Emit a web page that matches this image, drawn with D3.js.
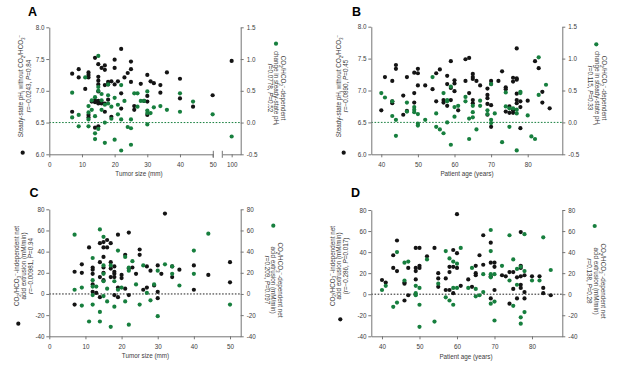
<!DOCTYPE html>
<html><head><meta charset="utf-8">
<script src="https://cdn.jsdelivr.net/npm/d3@7"></script>
<style>body{margin:0;background:#fff}svg{display:block}text{font-family:"Liberation Sans",Arial,sans-serif}</style>
</head><body><svg id="c" width="617" height="369"></svg>
<script>
// ---------- DATA ----------
// Panel A: tumor size (mm) vs steady-state pHi (black, left axis) and CO2/HCO3- dependent change (green, right axis)
const aBlack = [[7,7.27],[7,6.67],[9,7.34],[9,7.21],[11,7.03],[12,7.29],[12,7.25],[12,7.21],[12,6.62],[12,6.58],[13,6.83],[14,7.52],[14,6.82],[14,6.42],[14,6.85],[15,7.42],[15,7.22],[15,7.16],[15,7.1],[15,6.84],[15,6.8],[15,6.44],[15,6.99],[16,7.36],[16,6.82],[16,6.8],[17,7.4],[17,7.33],[17,7.09],[17,6.67],[17,6.8],[18,7.1],[18,7.14],[18,6.86],[19,7.15],[19,6.59],[20,7.49],[20,7.36],[20,7.1],[21,7.15],[22,7.66],[22,6.96],[22,6.72],[23,7.21],[24,7.28],[25,7.46],[25,7.34],[25,7.14],[26,6.76],[26,6.7],[28,7.11],[29,6.84],[30,7.25],[30,6.92],[30,6.83],[30,6.62],[31,7.15],[32,7.12],[34,7.09],[34,6.97],[36,7.29],[40,7.19],[40,6.88],[44,6.75],[50,6.93],[100,7.47]];
const aGreen = [[7,0.47],[7,0.08],[9,0.12],[9,-0.06],[11,0.71],[12,0.26],[12,0.16],[12,0.05],[12,-0.06],[13,0.35],[13,0.2],[14,0.1],[14,-0.17],[14,-0.26],[14,0.4],[15,-0.1],[15,1.05],[15,0.56],[15,0.5],[16,0.35],[16,0.45],[16,0.2],[17,-0.32],[17,0.28],[17,0.0],[18,0.43],[18,0.6],[18,0.3],[19,0.25],[19,0.06],[20,0.39],[20,-0.27],[21,0.28],[21,0.13],[22,0.59],[22,0.05],[22,-0.44],[23,0.34],[24,-0.07],[25,-0.09],[25,-0.35],[25,0.05],[26,0.46],[27,0.46],[27,0.25],[28,0.34],[29,0.34],[30,0.49],[30,0.19],[30,0.15],[30,-0.03],[31,0.15],[32,0.24],[34,0.26],[36,0.2],[40,0.46],[40,0.17],[44,0.33],[50,0.13],[100,-0.22]];
// Panel B: patient age (years)
const bBlack = [[40,6.69],[41,7.21],[43,7.15],[43,6.8],[43,6.83],[44,7.4],[44,7.34],[46,6.92],[46,6.62],[47,7.21],[47,6.68],[49,7.28],[49,6.96],[49,6.81],[50,7.34],[50,7.27],[50,7.08],[52,7.08],[54,7.02],[55,7.27],[55,6.83],[56,7.33],[57,6.85],[57,6.81],[58,7.23],[58,7.1],[58,6.76],[59,7.46],[59,7.04],[59,6.85],[60,7.16],[60,7.11],[60,6.99],[61,6.69],[63,7.15],[63,7.49],[64,7.51],[64,6.96],[65,7.26],[65,7.21],[65,7.18],[65,6.85],[65,6.8],[66,7.15],[67,7.08],[69,7.03],[69,6.93],[69,6.88],[69,6.79],[69,6.62],[70,7.15],[70,7.1],[70,6.77],[70,6.43],[72,7.15],[73,7.3],[74,7.05],[74,7.02],[74,6.67],[75,6.75],[75,6.65],[76,7.2],[76,7.14],[76,6.69],[76,6.65],[77,7.66],[77,7.17],[77,7.19],[77,6.95],[77,6.85],[77,6.8],[78,6.83],[78,6.74],[78,6.41],[80,6.84],[82,7.46],[83,7.35],[84,6.98],[84,6.81],[86,6.72]];
const bGreen = [[40,0.46],[41,0.39],[43,0.33],[43,0.1],[44,0.04],[44,-0.21],[47,0.31],[47,0.17],[49,0.24],[49,0.2],[49,0.16],[50,0.13],[50,-0.02],[50,-0.05],[52,0.04],[54,0.71],[55,0.14],[55,-0.07],[56,-0.11],[57,-0.17],[57,0.46],[58,0.35],[58,0.33],[58,0.0],[59,0.56],[59,-0.35],[60,0.24],[60,0.09],[61,0.26],[63,0.33],[63,0.4],[64,0.06],[64,-0.26],[65,0.26],[65,0.16],[65,0.08],[66,-0.11],[67,0.34],[67,0.26],[69,0.13],[69,0.19],[70,0.6],[70,0.04],[70,-0.01],[71,0.14],[73,-0.31],[74,0.47],[74,0.25],[75,-0.07],[75,0.22],[76,0.22],[77,0.2],[77,0.14],[77,-0.44],[78,0.48],[78,0.46],[80,0.11],[81,-0.22],[82,-0.26],[83,1.02],[83,0.43],[85,0.59]];
// Panel C: tumor size (mm) vs acid extrusion (mM/min)
const cBlack = [[7,21],[7,-10],[9,28],[9,20],[11,44],[12,25],[12,23],[12,19],[12,9],[12,2],[13,1],[14,30],[14,48],[14,16],[14,-3],[15,49],[15,44],[15,35],[15,25],[15,20],[15,13],[16,51],[16,44],[17,48],[17,30],[17,24],[17,16],[18,26],[18,21],[18,19],[18,16],[18,-1],[19,56],[19,6],[19,-3],[20,18],[20,15],[21,37],[21,5],[22,58],[22,24],[22,-1],[23,25],[24,19],[25,42],[25,37],[26,4],[27,26],[27,6],[28,22],[29,8],[30,27],[30,2],[30,-4],[31,19],[32,76],[34,26],[34,16],[36,23],[40,27],[40,4],[44,18],[50,30],[50,11]];
const cGreen = [[7,56],[7,4],[9,6],[9,-11],[11,-26],[12,34],[12,13],[12,7],[12,-1],[12,-10],[13,7],[14,61],[14,-17],[14,-26],[15,54],[15,27],[15,19],[15,12],[15,-2],[16,-7],[16,5],[17,27],[17,-31],[18,12],[18,-12],[19,41],[19,4],[20,6],[21,35],[21,-7],[22,-29],[22,25],[22,22],[23,31],[24,9],[25,-10],[26,27],[27,1],[28,-6],[29,9],[30,22],[30,-21],[32,28],[34,26],[34,19],[36,8],[40,41],[40,19],[44,57],[50,-10]];
// Panel D: patient age (years) vs acid extrusion (mM/min)
const dBlack = [[40,13.5],[41,11],[43,37],[43,25],[44,51],[44,22],[46,11],[46,10],[46,-6],[47,25],[47,-1],[49,44],[50,44],[49,25],[49,22],[49,14],[50,27],[50,25],[52,36],[54,44],[55,20],[55,15],[55,7],[57,15],[57,4],[58,26],[58,21],[58,4],[59,26],[59,1],[59,42],[60,39],[60,25],[60,76],[61,8],[63,14],[64,7],[65,27],[65,20],[65,18],[66,37],[67,56],[67,28],[69,49],[69,30],[69,17],[69,-4],[70,30],[70,26],[70,4],[72,18],[73,17],[74,21],[75,21],[75,5],[74,-9],[76,16],[77,17],[76,-4],[77,59],[77,27],[77,25],[77,9],[77,6],[78,18],[78,2],[78,-4],[80,17],[82,17],[83,6],[83,1],[85,-1]];
const dGreen = [[40,4],[41,8],[43,-12],[44,40],[44,-8],[46,30],[46,13],[47,31],[49,8],[49,1],[49,-1],[50,6],[50,-10],[50,-31],[52,33],[54,-26],[55,10],[57,41],[57,-3],[58,34],[58,-6],[59,-10],[59,6],[59,31],[60,29],[60,6],[61,44],[63,6],[64,25],[65,-2],[66,-1],[65,5],[67,19],[67,2],[69,61],[69,41],[69,19],[69,16],[69,-9],[70,-7],[70,-25],[70,19],[72,27],[74,56],[74,13],[75,-11],[75,33],[76,24],[76,9],[77,-22],[77,-28],[77,26],[78,57],[78,22],[78,-17],[80,13],[82,13],[83,54],[85,23]];

// tick values
const phTicks = [6.0, 6.5, 7.0, 7.5, 8.0];
const deltaTicks = [-0.5, 0.0, 0.5, 1.0, 1.5];
const extrTicks = [-40, -20, 0, 20, 40, 60, 80];
const sizeTicksA = [0, 10, 20, 30, 40, 50];
const sizeTicksABreak = [100];
const sizeTicksC = [0, 10, 20, 30, 40, 50];
const ageTicks = [40, 50, 60, 70, 80];

// axis titles
const labA_L = ["Steady-state pH_{i} without CO_{2}/HCO_{3}^{−}", "*r*=−0.0243, *P*=0.84"];
const labA_R = ["CO_{2}/HCO_{3}^{−}-dependent", "change in steady-state pH_{i}", "*r*=0.0778, *P*=0.52"];
const labB_L = ["Steady-state pH_{i} without CO_{2}/HCO_{3}^{−}", "*r*=−0.0890, *P*=0.45"];
const labB_R = ["CO_{2}/HCO_{3}^{−}-dependent", "change in steady-state pH_{i}", "*r*=0.115, *P*=0.33"];
const labC_L = ["CO_{2}/HCO_{3}^{−}-independent net", "acid extrusion (mM/min)", "*r*=−0.00981, *P*=0.94"];
const labC_R = ["CO_{2}/HCO_{3}^{−}-dependent net", "acid extrusion (mM/min)", "*r*=0.209, *P*=0.097"];
const labD_L = ["CO_{2}/HCO_{3}^{−}-independent net", "acid extrusion (mM/min)", "(*r*=−0.286, *P*=0.017)"];
const labD_R = ["CO_{2}/HCO_{3}^{−}-dependent net", "acid extrusion (mM/min)", "*r*=0.138, *P*=0.28"];

// ---------- DRAW ----------
const svg = d3.select("#c");
const AXC = "#757575", TXT = "#3c3c3c", BLK = "#141414", GRN = "#177f3e";
const FS = 6.3, R = 2.1;

function rich(textSel, str) {
  const parts = str.split(/(_\{[^}]*\}|\^\{[^}]*\}|\*[^*]+\*)/g).filter(s => s.length);
  let cur = 0;
  parts.forEach(p => {
    let t = p, shift = 0, small = false, it = false;
    if (p.startsWith("_{")) { t = p.slice(2, -1); shift = 0.28 * FS; small = true; }
    else if (p.startsWith("^{")) { t = p.slice(2, -1); shift = -0.38 * FS; small = true; }
    else if (p.startsWith("*")) { t = p.slice(1, -1); it = true; }
    const ts = textSel.append("tspan").text(t);
    if (shift - cur !== 0) ts.attr("dy", shift - cur);
    cur = shift;
    if (small) ts.attr("font-size", FS * 0.72);
    if (it) ts.attr("font-style", "italic");
  });
}

function styleAxis(g) {
  g.select(".domain").attr("stroke", AXC).attr("stroke-width", 1);
  g.selectAll(".tick line").attr("stroke", AXC).attr("stroke-width", 1);
  g.selectAll(".tick text").attr("fill", TXT).attr("font-size", FS).attr("font-family", '"Liberation Sans",Arial,sans-serif');
}

function sideLabel(lines, xs, cy, rot) {
  lines.forEach((ln, i) => {
    const t = svg.append("text")
      .attr("transform", `translate(${xs[i]},${cy}) rotate(${rot})`)
      .attr("text-anchor", "middle").attr("y", 0.35 * FS)
      .attr("font-size", FS).attr("fill", TXT);
    rich(t, ln);
  });
}

function dot(x, y, c) {
  svg.append("circle").attr("cx", x).attr("cy", y).attr("r", R).attr("fill", c);
}

function panel(cfg) {
  const {L, Rt, T, B, xScale, yL, yR, black, green, refColor, letter, lx, ly} = cfg;
  svg.append("line").attr("x1", L).attr("x2", Rt).attr("y1", yR(0)).attr("y2", yR(0))
    .attr("stroke", refColor).attr("stroke-width", 1).attr("stroke-dasharray", "1.6,1.6");
  svg.append("g").attr("transform", `translate(${L},0)`)
    .call(d3.axisLeft(yL).tickValues(cfg.yLTicks).tickSize(3).tickSizeOuter(0).tickPadding(1.8).tickFormat(cfg.fmtL))
    .call(styleAxis);
  svg.append("g").attr("transform", `translate(${Rt},0)`)
    .call(d3.axisRight(yR).tickValues(cfg.yRTicks).tickSize(3).tickSizeOuter(0).tickPadding(3).tickFormat(cfg.fmtR))
    .call(styleAxis);
  cfg.xAxes.forEach(a => {
    svg.append("g").attr("transform", `translate(0,${B})`)
      .call(d3.axisBottom(a.scale).tickValues(a.ticks).tickSize(3).tickSizeOuter(0).tickPadding(5.5).tickFormat(d3.format("d")))
      .call(styleAxis);
  });
  black.forEach(d => dot(xScale(d[0]), yL(d[1]), BLK));
  green.forEach(d => dot(xScale(d[0]), yR(d[1]), GRN));
  svg.append("text").attr("x", lx).attr("y", ly).text(letter)
    .attr("font-size", 12.5).attr("font-weight", "bold").attr("fill", "#000");
  svg.append("text").attr("x", cfg.xtX).attr("y", cfg.xtY).attr("text-anchor", "middle")
    .attr("font-size", FS).attr("fill", TXT).text(cfg.xTitle);
  sideLabel(cfg.labL, cfg.labLx, cfg.labLcy, -90);
  sideLabel(cfg.labR, cfg.labRx, cfg.labRcy, 90);
  dot(cfg.legBlack[0], cfg.legBlack[1], BLK);
  dot(cfg.legGreen[0], cfg.legGreen[1], GRN);
}

const f1 = d3.format(".1f");
const fR = v => (v < 0 ? "-" : "") + d3.format(".1f")(Math.abs(v));
const fI = v => (v < 0 ? "-" : "") + Math.abs(v);

// Panel A (broken x axis)
const xA1 = d3.scaleLinear().domain([0, 50.2]).range([49.3, 213.3]);
const xA2 = d3.scaleLinear().domain([97.1, 102.8]).range([222.3, 240.7]);
const xA = v => (v > 75 ? xA2(v) : xA1(v));
const yAL = d3.scaleLinear().domain([6, 8]).range([154.3, 27.3]);
const yAR = d3.scaleLinear().domain([-0.5, 1.5]).range([154.3, 27.3]);
panel({L:49.3, Rt:240.7, T:27.3, B:154.3, xScale:xA, yL:yAL, yR:yAR, black:aBlack, green:aGreen,
  refColor:GRN, letter:"A", lx:28, ly:15.5, yLTicks:phTicks, yRTicks:deltaTicks, fmtL:f1, fmtR:fR,
  xAxes:[{scale:xA1, ticks:sizeTicksA}, {scale:xA2, ticks:sizeTicksABreak}],
  xTitle:"Tumor size (mm)", xtX:139, xtY:175.5,
  labL:labA_L, labLx:[20.7, 28.3], labLcy:86, labR:labA_R, labRx:[283, 276.5, 270], labRcy:88,
  legBlack:[22.7,152.7], legGreen:[276,43.7]});
[213.3, 222.3].forEach(x => svg.append("line").attr("x1", x).attr("x2", x).attr("y1", 150.8).attr("y2", 157.8).attr("stroke", AXC).attr("stroke-width", 1));

// Panel B
const xB = d3.scaleLinear().domain([37.27, 89.45]).range([371.3, 562.3]);
const yBL = d3.scaleLinear().domain([6, 8]).range([154.3, 26.7]);
const yBR = d3.scaleLinear().domain([-0.5, 1.5]).range([154.3, 26.7]);
panel({L:371.3, Rt:562.3, T:26.7, B:154.3, xScale:xB, yL:yBL, yR:yBR, black:bBlack, green:bGreen,
  refColor:GRN, letter:"B", lx:352, ly:15.5, yLTicks:phTicks, yRTicks:deltaTicks, fmtL:f1, fmtR:fR,
  xAxes:[{scale:xB, ticks:ageTicks}],
  xTitle:"Patient age (years)", xtX:467, xtY:175.8,
  labL:labB_L, labLx:[339, 345.6], labLcy:86, labR:labB_R, labRx:[604, 597.3, 590.7], labRcy:88,
  legBlack:[343.7,152.7], legGreen:[596.3,44.3]});

// Panel C
const xC = d3.scaleLinear().domain([0, 52.96]).range([49.3, 240.7]);
const yCL = d3.scaleLinear().domain([-40, 80]).range([336.3, 209.3]);
const yCR = d3.scaleLinear().domain([-40, 80]).range([336.3, 209.3]);
panel({L:49.3, Rt:240.7, T:209.3, B:336.3, xScale:xC, yL:yCL, yR:yCR, black:cBlack, green:cGreen,
  refColor:"#222", letter:"C", lx:29.5, ly:197, yLTicks:extrTicks, yRTicks:extrTicks, fmtL:fI, fmtR:fI,
  xAxes:[{scale:xC, ticks:sizeTicksC}],
  xTitle:"Tumor size (mm)", xtX:145.5, xtY:358.3,
  labL:labC_L, labLx:[16.8, 23.8, 30.8], labLcy:266, labR:labC_R, labRx:[280.3, 273.5, 266.8], labRcy:280,
  legBlack:[18.3,323.7], legGreen:[273.3,225.7]});

// Panel D
const xD = d3.scaleLinear().domain([37.15, 88.08]).range([371.3, 562.3]);
const yDL = d3.scaleLinear().domain([-40, 80]).range([336.3, 210]);
const yDR = d3.scaleLinear().domain([-40, 80]).range([336.3, 210]);
panel({L:371.3, Rt:562.3, T:210, B:336.3, xScale:xD, yL:yDL, yR:yDR, black:dBlack, green:dGreen,
  refColor:"#222", letter:"D", lx:351, ly:197, yLTicks:extrTicks, yRTicks:extrTicks, fmtL:fI, fmtR:fI,
  xAxes:[{scale:xD, ticks:ageTicks}],
  xTitle:"Patient age (years)", xtX:466, xtY:358.8,
  labL:labD_L, labLx:[332.3, 339, 345.7], labLcy:266, labR:labD_R, labRx:[603, 596.3, 589.7], labRcy:281,
  legBlack:[340.3,319.3], legGreen:[594.7,226]});
</script></body></html>
